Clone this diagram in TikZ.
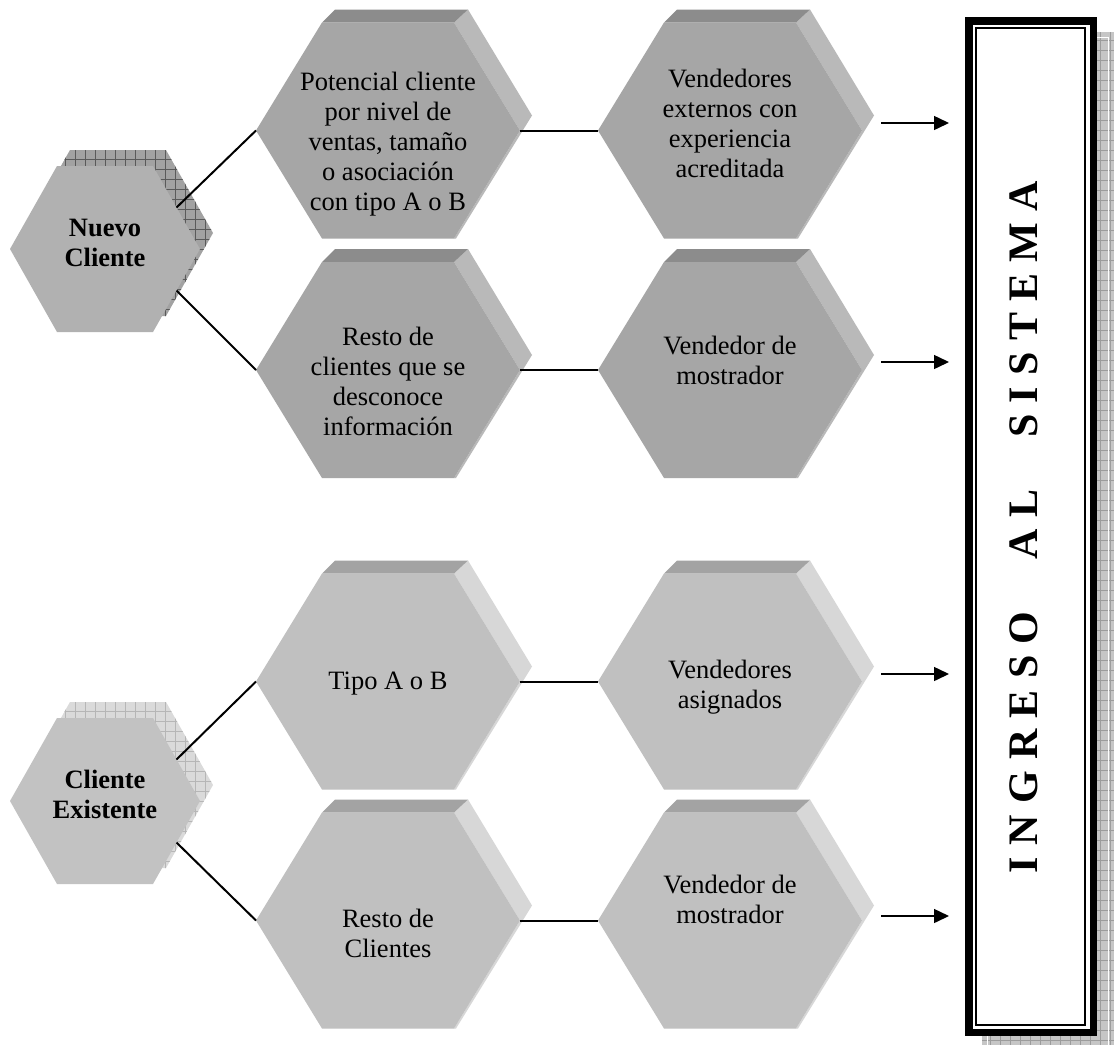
\documentclass[tikz,border=0pt]{standalone}
\usepackage{fontspec}
\setmainfont{Liberation Serif}
\usetikzlibrary{arrows.meta}

\definecolor{frontA}{HTML}{A6A6A6}
\definecolor{topA}{HTML}{8C8C8C}
\definecolor{sideA}{HTML}{B9B9B9}
\definecolor{frontB}{HTML}{C0C0C0}
\definecolor{topB}{HTML}{A3A3A3}
\definecolor{sideB}{HTML}{D7D7D7}
\definecolor{tileA}{HTML}{B1B1B1}
\definecolor{tileB}{HTML}{C2C2C2}
\definecolor{hatchA}{HTML}{A2A2A2}
\definecolor{hatchAline}{HTML}{5A5A5A}
\definecolor{hatchB}{HTML}{DADADA}
\definecolor{hatchBline}{HTML}{B6B6B6}
\definecolor{boxshade}{HTML}{C6C6C6}
\definecolor{boxshadeline}{HTML}{9C9C9C}

% hexagonal prism: name, centre, front, top, side
\newcommand\prismhex[5]{%
  \begin{scope}[shift={#2}]
    \fill[#5] (66,-108) -- (80,-121) -- (144,-15) -- (68,108) -- (66,108) -- (132,0) -- cycle;
    \fill[#4] (-66,-108) -- (-53,-121) -- (80,-121) -- (66,-108) -- cycle;
    \fill[#3] (-132,0) -- (-66,-108) -- (66,-108) -- (132,0) -- (66,108) -- (-66,108) -- cycle;
    \coordinate (#1-w) at (-132,0);
    \coordinate (#1-e) at (132,0);
  \end{scope}}

% small hexagon with a cross-hatched shadow: name, centre, front, hatch fill, hatch lines
\newcommand\tilehex[5]{%
  \begin{scope}[shift={#2}]
    \begin{scope}
      \clip (-82,-16) -- (-35,-99) -- (61,-99) -- (108,-16) -- (61,67) -- (-35,67) -- cycle;
      \fill[#4] (-90,-110) rectangle (115,75);
      \draw[#5, line width=0.7bp, step=10bp] (-90,-110) grid (115,75);
    \end{scope}
    \fill[#3] (-95,0) -- (-48,-83) -- (48,-83) -- (95,0) -- (48,83) -- (-48,83) -- cycle;
    \coordinate (#1-ne) at (71.5,-41.5);
    \coordinate (#1-se) at (71.5,41.5);
  \end{scope}}

\newcommand\hexlines[1]{\begin{tabular}[t]{@{}c@{}}#1\end{tabular}}
\newcommand\lk{\kern11.3bp}

\tikzset{
  label text/.style={anchor=base, inner sep=0pt,
    font=\fontsize{26.5bp}{30bp}\selectfont},
  head text/.style={anchor=base, inner sep=0pt,
    font=\bfseries\fontsize{26.5bp}{30bp}\selectfont},
  link/.style={line width=2bp, black},
  feed/.style={line width=1.5bp, black, -{Triangle[length=15bp,width=14bp]}}
}

\begin{document}
\begin{tikzpicture}[x=1bp,y=-1bp]
\useasboundingbox (0,0) rectangle (1114,1045);
\fill[white] (0,0) rectangle (1114,1045);

% starting hexagons
\tilehex{nc}{(105,249)}{tileA}{hatchA}{hatchAline}
\tilehex{ce}{(105,801)}{tileB}{hatchB}{hatchBline}
\node[head text] (nuevo) at (105,236) {\hexlines{Nuevo\\Cliente}};
\node[head text] (exist) at (105,788) {\hexlines{Cliente\\Existente}};

% prisms, new clients
\prismhex{hpot}{(388,130.5)}{frontA}{topA}{sideA}
\prismhex{hvex}{(730,130.5)}{frontA}{topA}{sideA}
\prismhex{hres}{(388,370)}{frontA}{topA}{sideA}
\prismhex{hvmo}{(730,370)}{frontA}{topA}{sideA}
% prisms, existing clients
\prismhex{htip}{(388,681.5)}{frontB}{topB}{sideB}
\prismhex{hvas}{(730,681.5)}{frontB}{topB}{sideB}
\prismhex{hrcl}{(388,920.5)}{frontB}{topB}{sideB}
\prismhex{hvmt}{(730,920.5)}{frontB}{topB}{sideB}

\node[label text] (pot) at (388,90) {\hexlines{Potencial cliente\\por nivel de\\ventas, tamaño\\o asociación\\con tipo A o B}};
\node[label text] (vex) at (730,87) {\hexlines{Vendedores\\externos con\\experiencia\\acreditada}};
\node[label text] (res) at (388,345) {\hexlines{Resto de\\clientes que se\\desconoce\\información}};
\node[label text] (vmo) at (730,354) {\hexlines{Vendedor de\\mostrador}};
\node[label text] (tip) at (388,689) {Tipo A o B};
\node[label text] (vas) at (730,678) {\hexlines{Vendedores\\asignados}};
\node[label text] (rcl) at (388,927) {\hexlines{Resto de\\Clientes}};
\node[label text] (vmt) at (730,893) {\hexlines{Vendedor de\\mostrador}};

% connectors
\draw[link] (nc-ne) -- (hpot-w);
\draw[link] (nc-se) -- (hres-w);
\draw[link] (ce-ne) -- (htip-w);
\draw[link] (ce-se) -- (hrcl-w);
\draw[link] (hpot-e) -- (hvex-w);
\draw[link] (hres-e) -- (hvmo-w);
\draw[link] (htip-e) -- (hvas-w);
\draw[link] (hrcl-e) -- (hvmt-w);

% system box with its shadow
\begin{scope}
  \clip (982,32) rectangle (1114,1045);
  \fill[boxshade] (982,32) rectangle (1114,1045);
  \draw[boxshadeline, line width=0.7bp, step=10bp] (982,32) grid (1114,1045);
  \draw[white, line width=1bp] (987,37) rectangle (1108,1060);
\end{scope}
\fill[white] (965,17) rectangle (1097,1036);
\draw[line width=7.5bp] (968.75,20.75) rectangle (1093.25,1032.25);
\draw[line width=2bp] (976,28) rectangle (1085,1024.5);
\node[anchor=base, rotate=90, inner sep=0pt,
  font=\bfseries\fontsize{42bp}{42bp}\selectfont] (ingreso) at (1037,527)
  {I\lk N\lk G\lk R\lk E\lk S\lk O\kern52bp A\lk L\kern52bp S\lk I\lk S\lk T\lk E\lk M\lk A};

% arrows into the system
\coordinate (f1s) at (881,123); \coordinate (f1e) at (949,123);
\coordinate (f2s) at (881,362); \coordinate (f2e) at (949,362);
\coordinate (f3s) at (881,674); \coordinate (f3e) at (949,674);
\coordinate (f4s) at (881,916); \coordinate (f4e) at (949,916);
\draw[feed] (f1s) -- (f1e);
\draw[feed] (f2s) -- (f2e);
\draw[feed] (f3s) -- (f3e);
\draw[feed] (f4s) -- (f4e);
\end{tikzpicture}
\end{document}
